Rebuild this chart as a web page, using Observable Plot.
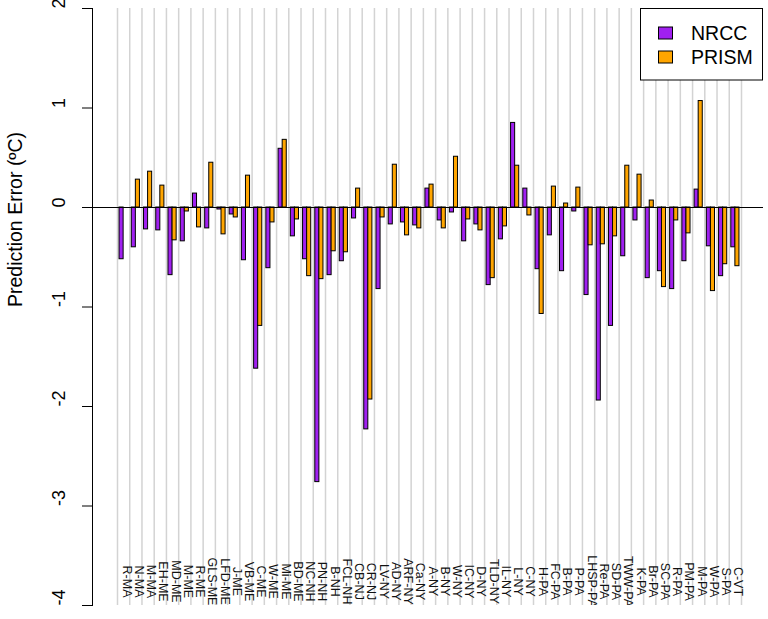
<!DOCTYPE html>
<html><head><meta charset="utf-8">
<script src="https://cdn.jsdelivr.net/npm/d3@7"></script>
<script src="https://cdn.jsdelivr.net/npm/@observablehq/plot@0.6"></script>
<style>body{margin:0;background:#fff} #chart svg{display:block}</style>
</head><body><div id="chart"></div>
<script>
const sites = ["R-MA","N-MA","M-MA","EH-ME","MD-ME","M-ME","R-ME","GLS-ME","LFD-ME","J-ME","VB-ME","C-ME","W-ME","Mi-ME","BD-ME","NC-NH","PN-NH","B-NH","FCL-NH","CB-NJ","CR-NJ","LV-NY","AD-NY","ARF-NY","Ca-NY","A-NY","B-NY","W-NY","IC-NY","D-NY","TLD-NY","IL-NY","L-NY","C-NY","H-PA","FC-PA","B-PA","P-PA","LHSP-PA","Re-PA","SD-PA","TWW-PA","K-PA","Br-PA","SC-PA","R-PA","PM-PA","M-PA","W-PA","S-PA","C-VT"];
const nrcc = [-0.52,-0.40,-0.22,-0.23,-0.68,-0.34,0.14,-0.21,-0.02,-0.07,-0.53,-1.62,-0.61,0.59,-0.29,-0.52,-2.76,-0.68,-0.54,-0.11,-2.23,-0.82,-0.17,-0.15,-0.18,0.19,-0.13,-0.05,-0.34,-0.17,-0.78,-0.32,0.85,0.19,-0.62,-0.28,-0.64,-0.04,-0.88,-1.94,-1.19,-0.49,-0.13,-0.71,-0.64,-0.82,-0.54,0.18,-0.39,-0.69,-0.40];
const prism = [null,0.28,0.36,0.22,-0.33,-0.04,-0.20,0.45,-0.27,-0.10,0.32,-1.19,-0.15,0.68,-0.12,-0.69,-0.72,-0.44,-0.45,0.19,-1.93,-0.10,0.43,-0.28,-0.21,0.23,-0.21,0.51,-0.12,-0.23,-0.71,-0.19,0.42,-0.08,-1.07,0.21,0.04,0.20,-0.38,-0.37,-0.29,0.42,0.33,0.07,-0.80,-0.13,-0.26,1.07,-0.84,-0.57,-0.59];
const seriesNames = ["NRCC","PRISM"];
const seriesColors = ["#A020F0","#FFA500"];
const yTicks = [-4,-3,-2,-1,0,1,2];
const yTitle = "Prediction Error (ºC)";

const font = "'Liberation Sans', Arial, Helvetica, sans-serif";
const W = 768, H = 619, mL = 92, mR = 5, mT = 8, mB = 14;
const xRange = [117, 741];
const step = (xRange[1] - xRange[0]) / sites.length;
const half = step / 3; // half of the 2-bar band

const rowsN = sites.map((s, i) => ({site: s, value: nrcc[i]}));
const rowsP = sites.map((s, i) => ({site: s, value: prism[i]}));

const plot = Plot.plot({
  width: W, height: H,
  marginLeft: mL, marginRight: mR, marginTop: mT, marginBottom: mB,
  style: {fontFamily: font, background: "#fff"},
  x: {type: "band", domain: sites, range: xRange, round: false, paddingInner: 1/3, paddingOuter: 1/6, align: 0.5, axis: null},
  y: {domain: [-4, 2], axis: null},
  marks: [
    Plot.ruleX(sites, {x: d => d, dx: -step / 2, stroke: "#d3d3d3", strokeWidth: 1.5}),
    Plot.ruleX(sites.slice(-1), {x: d => d, dx: step / 2, stroke: "#d3d3d3", strokeWidth: 1.5}),
    Plot.text(sites, {x: d => d, frameAnchor: "bottom", dy: -24, dx: -1, text: d => d, rotate: 90,
      fontSize: 12.5, fill: "#111", clip: true}),
    Plot.barY(rowsN.filter(d => d.value != null), {x: "site", y: "value", fill: seriesColors[0], stroke: "#000", strokeWidth: 1, insetRight: half}),
    Plot.barY(rowsP.filter(d => d.value != null), {x: "site", y: "value", fill: seriesColors[1], stroke: "#000", strokeWidth: 1, insetLeft: half}),
    Plot.ruleY([0], {stroke: "#000", strokeWidth: 1.2}),
    Plot.axisY(yTicks, {tickSize: 10, tickFormat: () => "", label: null, stroke: "#000"}),
    Plot.frame({anchor: "left", stroke: "#000"}),
    Plot.text(yTicks, {y: d => d, text: d => String(d), frameAnchor: "left", dx: -33, rotate: -90, fontSize: 18, fill: "#000"}),
    Plot.text([yTitle], {text: d => d, frameAnchor: "left", dx: -77, rotate: -90, fontSize: 19.5, fill: "#000"})
  ]
});
document.getElementById("chart").appendChild(plot);

// legend (top-right, inside plot region)
const svg = d3.select(plot);
const lg = svg.append("g").attr("font-family", font).attr("text-anchor", "start");
lg.append("rect").attr("x", 640.5).attr("y", 8.5).attr("width", 122).attr("height", 71.5)
  .attr("fill", "#fff").attr("stroke", "#000").attr("stroke-width", 1);
seriesNames.forEach((name, i) => {
  const cy = 33 + i * 24;
  lg.append("rect").attr("x", 658.5).attr("y", cy - 6).attr("width", 14).attr("height", 12)
    .attr("fill", seriesColors[i]).attr("stroke", "#000").attr("stroke-width", 1);
  lg.append("text").attr("x", 691).attr("y", cy).attr("dy", "0.35em").attr("text-anchor", "start")
    .attr("font-size", 19.5).attr("fill", "#000").text(name);
});
</script>
</body></html>
